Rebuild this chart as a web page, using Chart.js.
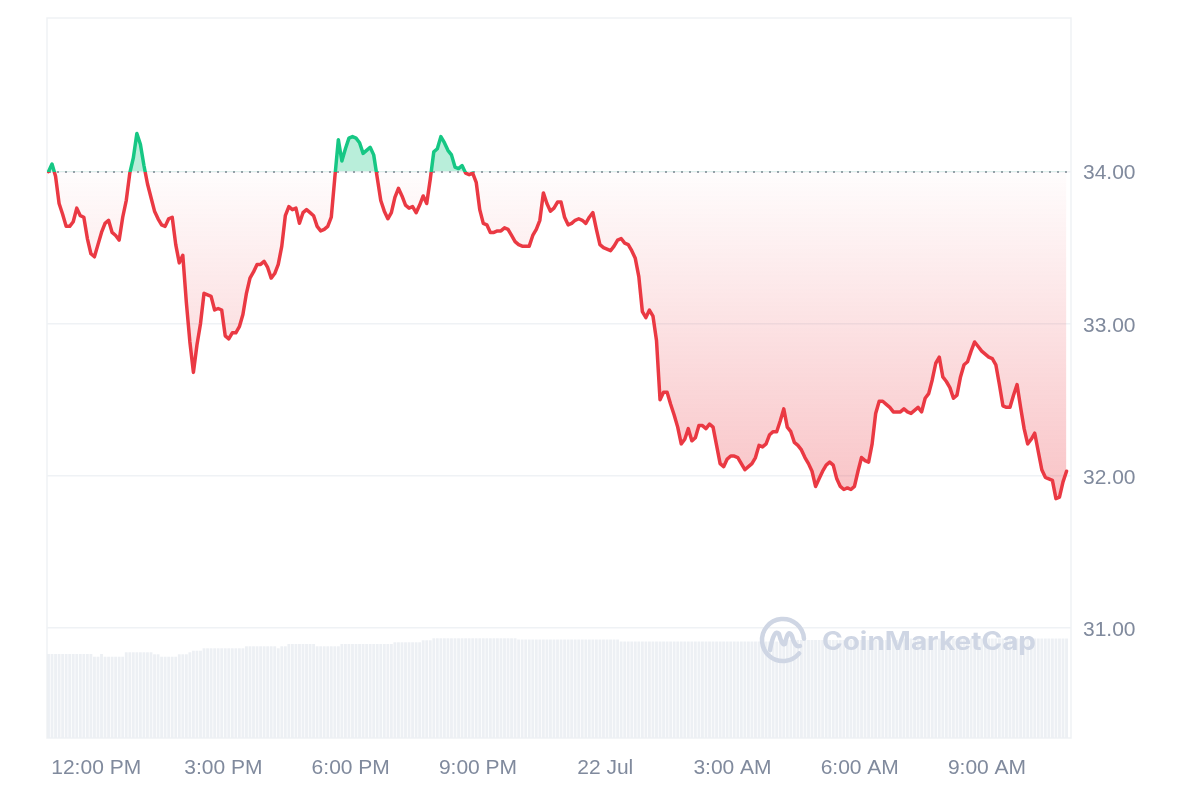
<!DOCTYPE html>
<html>
<head>
<meta charset="utf-8">
<script src="https://cdn.jsdelivr.net/npm/chart.js@4.4.1/dist/chart.umd.min.js"></script>
<style>
html,body{margin:0;padding:0;background:#ffffff;}
#wrap{width:1200px;height:800px;position:relative;}
</style>
</head>
<body>
<div id="wrap"><canvas id="c" width="1200" height="800"></canvas></div>
<script>
// ---- data ----
const startHour = 10.875;        // first sample, 21 Jul ~10:52 AM (hours since 21 Jul 00:00)
const stepHours = 5 / 60;        // 5-minute samples
const openPrice = 34.00;         // dotted reference line

const prices = [
  34.00, 34.05, 33.97, 33.79, 33.72, 33.64, 33.64, 33.67, 33.76, 33.71,
  33.70, 33.56, 33.46, 33.44, 33.52, 33.60, 33.66, 33.68, 33.60, 33.58,
  33.55, 33.70, 33.81, 33.99, 34.09, 34.25, 34.18, 34.04, 33.92, 33.83,
  33.74, 33.69, 33.65, 33.64, 33.69, 33.70, 33.52, 33.40, 33.45, 33.14,
  32.88, 32.68, 32.86, 33.00, 33.20, 33.19, 33.18, 33.09, 33.10, 33.09,
  32.92, 32.90, 32.94, 32.94, 32.98, 33.06, 33.20, 33.30, 33.34, 33.39,
  33.39, 33.41, 33.37, 33.30, 33.33, 33.39, 33.51, 33.71, 33.77, 33.75,
  33.76, 33.66, 33.73, 33.75, 33.73, 33.71, 33.64, 33.61, 33.62, 33.64,
  33.70, 33.96, 34.21, 34.07, 34.15, 34.22, 34.23, 34.22, 34.19, 34.12,
  34.14, 34.16, 34.11, 33.96, 33.81, 33.74, 33.69, 33.73, 33.83, 33.89,
  33.84, 33.78, 33.76, 33.77, 33.73, 33.78, 33.84, 33.79, 33.95, 34.13,
  34.15, 34.23, 34.19, 34.14, 34.11, 34.03, 34.02, 34.04, 33.99, 33.98,
  33.99, 33.93, 33.75, 33.66, 33.65, 33.60, 33.60, 33.61, 33.61, 33.63,
  33.62, 33.58, 33.54, 33.52, 33.51, 33.51, 33.51, 33.58, 33.62, 33.68,
  33.86, 33.79, 33.74, 33.76, 33.80, 33.80, 33.70, 33.65, 33.66, 33.68,
  33.69, 33.68, 33.66, 33.70, 33.73, 33.62, 33.52, 33.50, 33.49, 33.48,
  33.51, 33.55, 33.56, 33.53, 33.52, 33.48, 33.43, 33.31, 33.08, 33.04,
  33.09, 33.05, 32.89, 32.50, 32.55, 32.55, 32.47, 32.40, 32.32, 32.21,
  32.24, 32.31, 32.23, 32.25, 32.33, 32.33, 32.31, 32.34, 32.32, 32.20,
  32.08, 32.06, 32.11, 32.13, 32.13, 32.12, 32.08, 32.04, 32.06, 32.08,
  32.12, 32.20, 32.19, 32.21, 32.27, 32.29, 32.29, 32.36, 32.44, 32.32,
  32.29, 32.22, 32.20, 32.17, 32.12, 32.08, 32.03, 31.93, 31.98, 32.03,
  32.07, 32.09, 32.07, 31.98, 31.93, 31.91, 31.92, 31.91, 31.93, 32.03,
  32.12, 32.10, 32.09, 32.21, 32.41, 32.49, 32.49, 32.47, 32.45, 32.42,
  32.42, 32.42, 32.44, 32.42, 32.41, 32.43, 32.45, 32.42, 32.51, 32.54,
  32.63, 32.74, 32.78, 32.65, 32.62, 32.58, 32.51, 32.53, 32.65, 32.73,
  32.75, 32.82, 32.88, 32.85, 32.82, 32.80, 32.78, 32.77, 32.73, 32.60,
  32.46, 32.45, 32.45, 32.53, 32.60, 32.45, 32.31, 32.21, 32.24, 32.28,
  32.16, 32.04, 31.99, 31.98, 31.97, 31.85, 31.86, 31.96, 32.03
];

// volume (millions, relative), one bar per 5-minute sample
const volumes = [
  8.4, 8.4, 8.4, 8.4, 8.4, 8.4, 8.4, 8.4, 8.4, 8.4, 8.4, 8.4, 8.4, 8.13, 8.13, 8.4,
  8.13, 8.13, 8.13, 8.13, 8.13, 8.13, 8.57, 8.57, 8.57, 8.57, 8.57, 8.57, 8.57, 8.57,
  8.37, 8.37, 8.13, 8.13, 8.13, 8.13, 8.13, 8.37, 8.37, 8.37, 8.57, 8.73, 8.73, 8.73,
  8.97, 8.97, 8.97, 8.97, 8.97, 8.97, 8.97, 8.97, 8.97, 8.97, 8.97, 8.97,
  9.17, 9.17, 9.17, 9.17, 9.17, 9.17, 9.17, 9.17, 9.17, 8.97, 9.17, 9.17,
  9.4, 9.4, 9.4, 9.4, 9.4, 9.4, 9.4, 9.4, 9.17, 9.17, 9.17, 9.17, 9.17, 9.17, 9.17,
  9.4, 9.4, 9.4, 9.4, 9.4, 9.4, 9.4, 9.4, 9.4, 9.4, 9.4, 9.4, 9.4, 9.4, 9.4,
  9.57, 9.57, 9.57, 9.57, 9.57, 9.57, 9.57, 9.57, 9.77, 9.77, 9.77,
  9.97, 9.97, 9.97, 9.97, 9.97, 9.97, 9.97, 9.97, 9.97, 9.97, 9.97, 9.97,
  9.97, 9.97, 9.97, 9.97, 9.97, 9.97, 9.97, 9.97, 9.97, 9.97, 9.97, 9.97,
  9.85, 9.85, 9.85, 9.85, 9.85, 9.85, 9.85, 9.85, 9.85, 9.85, 9.85, 9.85, 9.85, 9.85, 9.85,
  9.85, 9.85, 9.85, 9.85, 9.85, 9.85, 9.85, 9.85, 9.85, 9.85, 9.85, 9.85, 9.85, 9.85,
  9.65, 9.65, 9.65, 9.65, 9.65, 9.65, 9.65, 9.65, 9.65, 9.65, 9.65, 9.65, 9.65, 9.65, 9.65,
  9.65, 9.65, 9.65, 9.65, 9.65, 9.65, 9.65, 9.65, 9.65, 9.65, 9.65, 9.65, 9.65, 9.65, 9.65,
  9.65, 9.65, 9.65, 9.65, 9.65, 9.65, 9.65, 9.65, 9.65, 9.65, 9.65, 9.65, 9.65, 9.65, 9.65, 9.65,
  9.8, 9.8, 9.8, 9.8, 9.8, 9.8, 9.8, 9.8, 9.8, 9.8, 9.8, 9.8, 9.8, 9.8, 9.8,
  9.8, 9.8, 9.8, 9.8, 9.8, 9.8, 9.8, 9.8, 9.8, 9.8, 9.8, 9.8, 9.8, 9.8, 9.8, 9.8, 9.8, 9.8,
  9.95, 9.95, 9.95, 9.95, 9.95, 9.95, 9.95, 9.95, 9.95, 9.95, 9.95, 9.95, 9.95, 9.95, 9.95, 9.95,
  9.95, 9.95, 9.95, 9.95, 9.95, 9.95, 9.95, 9.95, 9.95, 9.95, 9.95, 9.95, 9.95, 9.95, 9.95, 9.95,
  9.95, 9.95, 9.95, 9.95, 9.95, 9.95, 9.95, 9.95, 9.95, 9.95, 9.95, 9.95, 9.95, 9.95, 9.95, 9.95
];

const yTickValues = [31, 32, 33, 34];
const xTickValues = [12, 15, 18, 21, 24, 27, 30, 33];
const xTickLabels = ['12:00 PM', '3:00 PM', '6:00 PM', '9:00 PM', '22 Jul', '3:00 AM', '6:00 AM', '9:00 AM'];

// ---- styles ----
const RED = '#ea3943';
const GREEN = '#16c784';
const TICK_COLOR = '#808a9d';
const GRID_COLOR = '#eff2f5';
const FONT = "'Liberation Sans', Arial, sans-serif";

const times = prices.map((_, i) => startHour + i * stepHours);
const pricePoints = prices.map((p, i) => ({ x: times[i], y: p }));
const volumePoints = volumes.map((v, i) => ({ x: startHour + i * stepHours, y: v }));

const decor = {
  id: 'decor',
  beforeDatasetsDraw(chart) {
    const { ctx, chartArea: a, scales: { y } } = chart;
    ctx.save();
    ctx.strokeStyle = GRID_COLOR;
    ctx.lineWidth = 1.5;
    ctx.strokeRect(a.left, a.top, a.right - a.left, a.bottom - a.top);
    const yy = Math.round(y.getPixelForValue(openPrice));
    ctx.setLineDash([2, 6]);
    ctx.strokeStyle = '#9aa1ab';
    ctx.lineWidth = 2;
    ctx.beginPath();
    ctx.moveTo(a.left + 2, yy);
    ctx.lineTo(a.right, yy);
    ctx.stroke();
    ctx.restore();
  },
  afterDatasetDraw(chart, args) {
    if (args.index !== 1) return;
    const { ctx, chartArea: a } = chart;
    const cx = a.right - 288, cy = a.bottom - 98;
    const col = '#cfd6e4';
    ctx.save();
    ctx.strokeStyle = col;
    ctx.lineWidth = 4.5;
    ctx.lineCap = 'round';
    ctx.lineJoin = 'round';
    ctx.beginPath();
    ctx.arc(cx, cy, 21, 0.22 * Math.PI, 1.98 * Math.PI);
    ctx.stroke();
    ctx.beginPath();
    ctx.moveTo(cx - 13, cy + 10);
    ctx.quadraticCurveTo(cx - 9, cy - 12, cx - 4, cy - 6);
    ctx.quadraticCurveTo(cx - 1, cy + 6, cx + 2, cy + 4);
    ctx.quadraticCurveTo(cx + 5, cy - 12, cx + 9, cy - 4);
    ctx.quadraticCurveTo(cx + 12, cy + 8, cx + 17, cy + 6);
    ctx.stroke();
    ctx.fillStyle = col;
    ctx.font = "bold 25px Inter, 'Noto Sans', sans-serif";
    ctx.textBaseline = 'alphabetic';
    const txt = 'CoinMarketCap';
    const w = ctx.measureText(txt).width;
    const target = 214;
    ctx.translate(cx + 39, cy + 10);
    ctx.scale(target / w, 1);
    ctx.fillText(txt, 0, 0);
    ctx.restore();
  }
};

const chart = new Chart(document.getElementById('c'), {
  data: {
    datasets: [
      {
        type: 'line',
        data: pricePoints,
        borderColor: RED,
        borderWidth: 3.5,
        pointRadius: 0,
        tension: 0,
        borderJoinStyle: 'round',
        borderCapStyle: 'round',
        fill: { target: { value: openPrice }, above: 'rgba(22,199,132,0.3)', below: 'rgba(234,57,67,0.1)' },
        xAxisID: 'x',
        yAxisID: 'y',
        order: 0
      },
      {
        type: 'bar',
        data: volumePoints,
        backgroundColor: '#edf0f4',
        borderWidth: 0,
        barPercentage: 0.8,
        categoryPercentage: 1,
        xAxisID: 'x',
        yAxisID: 'vol',
        order: 1
      }
    ]
  },
  options: {
    responsive: false,
    devicePixelRatio: 1,
    animation: false,
    events: [],
    layout: { padding: { left: 47, top: 18, right: 0, bottom: 0 } },
    plugins: { legend: { display: false }, tooltip: { enabled: false } },
    scales: {
      x: {
        type: 'linear',
        position: 'bottom',
        offset: false,
        min: 10.84,
        max: 34.98,
        grid: { display: false, drawTicks: false, offset: false },
        border: { display: false },
        afterBuildTicks(scale) { scale.ticks = xTickValues.map(v => ({ value: v })); },
        afterFit(scale) { scale.height = 62; scale.paddingLeft = 0; scale.paddingRight = 0; },
        ticks: {
          autoSkip: false,
          maxRotation: 0,
          padding: 18,
          color: TICK_COLOR,
          font: { family: FONT, size: 21 },
          callback(v) { const i = xTickValues.indexOf(v); return i >= 0 ? xTickLabels[i] : ''; }
        }
      },
      y: {
        type: 'linear',
        position: 'right',
        min: 30.276,
        max: 35.01,
        grid: { color: GRID_COLOR, lineWidth: 1.5, drawTicks: false },
        border: { display: false },
        afterBuildTicks(scale) { scale.ticks = yTickValues.map(v => ({ value: v })); },
        afterFit(scale) { scale.width = 129; scale.paddingTop = 0; scale.paddingBottom = 0; },
        ticks: {
          padding: 12,
          labelOffset: 2,
          color: TICK_COLOR,
          font: { family: FONT, size: 21 },
          callback(v) { return Number(v).toFixed(2); }
        }
      },
      vol: {
        type: 'linear',
        display: false,
        min: 0,
        max: 72
      }
    }
  },
  plugins: [decor]
});

// gradients depend on the laid-out chart area
(function applyGradients() {
  const { ctx, chartArea: a, scales: { y } } = chart;
  const y0 = y.getPixelForValue(openPrice);
  const yLow = y.getPixelForValue(Math.min(...prices));
  const f = (y0 - a.top) / (a.bottom - a.top);
  const stroke = ctx.createLinearGradient(0, a.top, 0, a.bottom);
  stroke.addColorStop(0, GREEN);
  stroke.addColorStop(f, GREEN);
  stroke.addColorStop(f, RED);
  stroke.addColorStop(1, RED);
  const below = ctx.createLinearGradient(0, y0, 0, yLow);
  below.addColorStop(0, 'rgba(234,57,67,0.01)');
  below.addColorStop(1, 'rgba(234,57,67,0.3)');
  const ds = chart.data.datasets[0];
  ds.borderColor = stroke;
  ds.fill = { target: { value: openPrice }, above: 'rgba(22,199,132,0.3)', below: below };
  chart.update('none');
})();
</script>
</body>
</html>
